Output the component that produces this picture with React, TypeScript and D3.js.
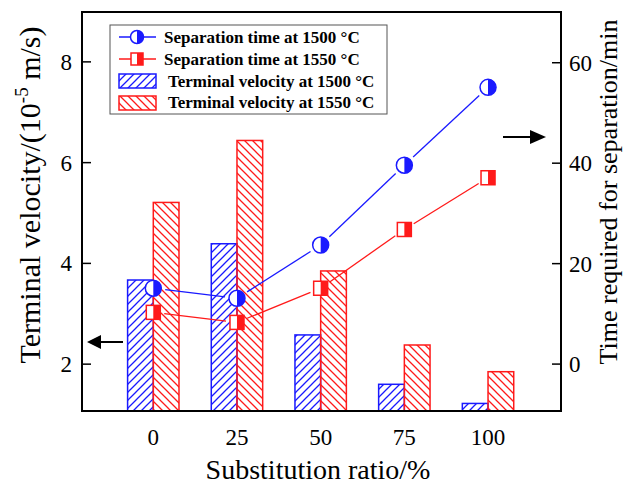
import React from "react";
import * as d3 from "d3";

const ratios = [0, 25, 50, 75, 100];
const velocity1500 = [3.67, 4.39, 2.58, 1.6, 1.22];
const velocity1550 = [5.21, 6.44, 3.85, 2.38, 1.85];
const time1500 = [15.1, 13.1, 23.7, 39.6, 55.1];
const time1550 = [10.3, 8.3, 15.1, 26.8, 37.1];
const leftTicks = [2, 4, 6, 8];
const rightTicks = [0, 20, 40, 60];

const BLUE = "#1a1aff";
const RED = "#ff1a1a";
const FONT = "Liberation Serif, serif";

const W = 635;
const H = 485;
const plot = { left: 82, right: 561, top: 12, bottom: 411 };

export default function App() {
  const x = d3.scaleLinear().domain([-21.3, 121.8]).range([plot.left, plot.right]);
  const yL = d3.scaleLinear().domain([1.07, 8.99]).range([plot.bottom, plot.top]);
  const yR = d3.scaleLinear().domain([-9.34, 70.1]).range([plot.bottom, plot.top]);
  const barW = 25.7;

  // shorten segments so the line stops short of the markers
  const segments = (vals: number[], gap: number) =>
    d3.pairs(ratios.map((r, i) => [x(r), yR(vals[i])])).map(([a, b]) => {
      const dx = b[0] - a[0];
      const dy = b[1] - a[1];
      const len = Math.hypot(dx, dy);
      const ux = dx / len;
      const uy = dy / len;
      return [a[0] + ux * gap, a[1] + uy * gap, b[0] - ux * gap, b[1] - uy * gap];
    });

  const circleMarker = (cx: number, cy: number, r: number, key: any) => (
    <g key={key}>
      <circle cx={cx} cy={cy} r={r} fill="white" stroke={BLUE} strokeWidth={1.5} />
      <path d={`M${cx},${cy - r} A${r},${r} 0 0 1 ${cx},${cy + r} Z`} fill={BLUE} />
    </g>
  );
  const squareMarker = (cx: number, cy: number, s: number, key: any) => (
    <g key={key}>
      <rect x={cx - s / 2} y={cy - s / 2} width={s} height={s} fill="white" stroke={RED} strokeWidth={1.5} />
      <rect x={cx} y={cy - s / 2} width={s / 2} height={s} fill={RED} />
    </g>
  );

  const legendX = 119;
  return (
    <svg width={W} height={H} style={{ position: "absolute", left: 0, top: 0, background: "white", fontFamily: FONT }}>
      <defs>
        <pattern id="hatchBlue" patternUnits="userSpaceOnUse" width={8} height={8}>
          <path d="M-2,2 L2,-2 M0,8 L8,0 M6,10 L10,6" stroke={BLUE} strokeWidth={1.3} />
        </pattern>
        <pattern id="hatchRed" patternUnits="userSpaceOnUse" width={8} height={8}>
          <path d="M-2,6 L2,10 M0,0 L8,8 M6,-2 L10,2" stroke={RED} strokeWidth={1.3} />
        </pattern>
      </defs>

      {/* bars */}
      {ratios.map((r, i) => (
        <g key={"b" + r}>
          <rect x={x(r) - barW} y={yL(velocity1500[i])} width={barW} height={plot.bottom - yL(velocity1500[i])}
            fill="url(#hatchBlue)" stroke={BLUE} strokeWidth={1.5} />
          <rect x={x(r)} y={yL(velocity1550[i])} width={barW} height={plot.bottom - yL(velocity1550[i])}
            fill="url(#hatchRed)" stroke={RED} strokeWidth={1.5} />
        </g>
      ))}

      {/* lines */}
      {segments(time1500, 12).map((s, i) => (
        <line key={"lb" + i} x1={s[0]} y1={s[1]} x2={s[2]} y2={s[3]} stroke={BLUE} strokeWidth={1.3} />
      ))}
      {segments(time1550, 11).map((s, i) => (
        <line key={"lr" + i} x1={s[0]} y1={s[1]} x2={s[2]} y2={s[3]} stroke={RED} strokeWidth={1.3} />
      ))}
      {ratios.map((r, i) => circleMarker(x(r), yR(time1500[i]), 8, "cb" + r))}
      {ratios.map((r, i) => squareMarker(x(r), yR(time1550[i]), 14, "sr" + r))}

      {/* frame */}
      <rect x={plot.left} y={plot.top} width={plot.right - plot.left} height={plot.bottom - plot.top}
        fill="none" stroke="black" strokeWidth={2} />

      {/* left axis */}
      {leftTicks.map((t) => (
        <g key={"lt" + t}>
          <line x1={plot.left} x2={plot.left + 9} y1={yL(t)} y2={yL(t)} stroke="black" strokeWidth={1.5} />
          <text x={plot.left - 10} y={yL(t) + 8} textAnchor="end" fontSize={23}>{t}</text>
        </g>
      ))}
      {/* right axis */}
      {rightTicks.map((t) => (
        <g key={"rt" + t}>
          <line x1={plot.right - 9} x2={plot.right} y1={yR(t)} y2={yR(t)} stroke="black" strokeWidth={1.5} />
          <text x={plot.right + 8} y={yR(t) + 8} textAnchor="start" fontSize={23}>{t}</text>
        </g>
      ))}
      {/* x labels */}
      {ratios.map((r) => (
        <text key={"xt" + r} x={x(r)} y={445} textAnchor="middle" fontSize={23}>{r}</text>
      ))}

      {/* axis titles */}
      <text x={318} y={479} textAnchor="middle" fontSize={28}>Substitution ratio/%</text>
      <text transform="translate(40,195) rotate(-90)" textAnchor="middle" fontSize={30}>
        Terminal velocity/(10<tspan dy={-12} fontSize={19}>-5</tspan><tspan dy={12}> m/s)</tspan>
      </text>
      <text transform="translate(617,192) rotate(-90)" textAnchor="middle" fontSize={26}>
        Time required for separation/min
      </text>

      {/* arrows */}
      <line x1={123} x2={98} y1={342} y2={342} stroke="black" strokeWidth={2} />
      <path d="M87,342 L101,335 L101,349 Z" fill="black" />
      <line x1={503} x2={532} y1={137} y2={137} stroke="black" strokeWidth={2} />
      <path d="M546,137 L530,130 L530,144 Z" fill="black" />

      {/* legend */}
      <rect x={110} y={25} width={277} height={89} fill="white" stroke="#555" strokeWidth={1} />
      <line x1={legendX} x2={legendX + 37} y1={37} y2={37} stroke={BLUE} strokeWidth={1.3} />
      {circleMarker(legendX + 18, 37, 6.5, "lc")}
      <line x1={legendX} x2={legendX + 37} y1={59} y2={59} stroke={RED} strokeWidth={1.3} />
      {squareMarker(legendX + 18, 59, 12, "ls")}
      <rect x={legendX} y={74} width={37} height={14} fill="url(#hatchBlue)" stroke={BLUE} strokeWidth={1.5} />
      <rect x={legendX} y={96} width={37} height={14} fill="url(#hatchRed)" stroke={RED} strokeWidth={1.5} />
      <g fontSize={17} fontWeight="bold">
        <text x={164} y={43}>Separation time at 1500 °C</text>
        <text x={164} y={65}>Separation time at 1550 °C</text>
        <text x={168} y={87}>Terminal velocity at 1500 °C</text>
        <text x={168} y={108}>Terminal velocity at 1550 °C</text>
      </g>
    </svg>
  );
}
